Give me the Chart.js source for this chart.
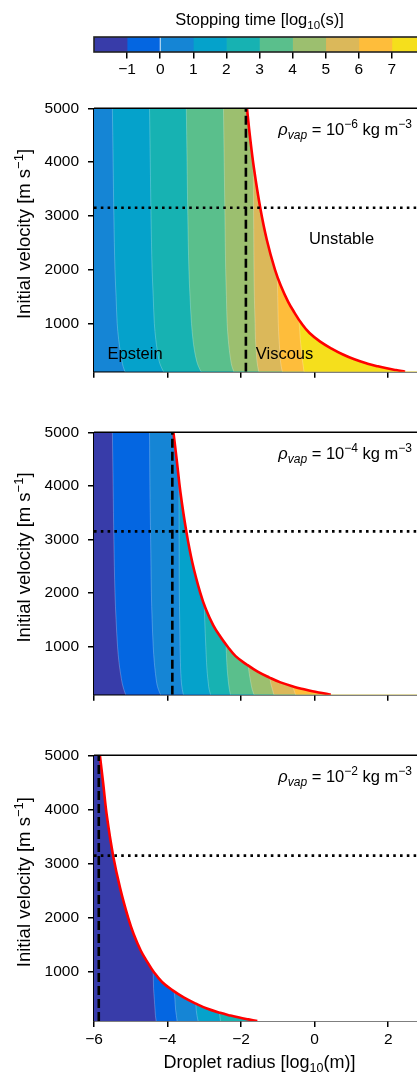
<!DOCTYPE html>
<html>
<head>
<meta charset="utf-8">
<script src="https://cdn.jsdelivr.net/npm/chart.js@4.4.0/dist/chart.umd.min.js"></script>
<style>
  html, body { margin: 0; padding: 0; background: #fff; }
  body { width: 417px; height: 1072px; overflow: hidden; position: relative; }
  canvas { position: absolute; left: 0; }
</style>
</head>
<body>
<canvas id="cbar" width="440" height="90" style="top:0px"></canvas>
<canvas id="p1" width="440" height="300" style="top:90px"></canvas>
<canvas id="p2" width="440" height="299" style="top:414px"></canvas>
<canvas id="p3" width="440" height="335" style="top:737px"></canvas>
<script>
// ---- data (x = log10 radius [m], v = velocity [m/s]) ----
const xTicks = [-6, -4, -2, 0, 2];
const yTicks = [1000, 2000, 3000, 4000, 5000];
const cbTicks = [-1, 0, 1, 2, 3, 4, 5, 6, 7];
const cbLevels = [-2, -1, 0, 1, 2, 3, 4, 5, 6, 7, 8];
const levelColors = ['#383ca9', '#0466e1', '#1585d5', '#05a2cb', '#17b2b2',
                     '#5abf8c', '#9cbf6f', '#dbb85a', '#febd3b', '#f5df1c'];
const rhoExponents = [-6, -4, -2];
const transitionRadius = [-1.87, -3.87, -5.87];
const refVelocity = 3150;

// panel 1: rho_vap = 1e-6
const p1BaseLevel = 0;
const p1Levels = [1, 2, 3, 4, 5, 6, 7];
const p1Contours = [
  [[-5.16,100],[-5.21,200],[-5.24,300],[-5.29,500],[-5.33,700],[-5.37,1000],[-5.40,1500],[-5.43,2000],[-5.46,3000],[-5.48,4000],[-5.50,5000]],
  [[-4.11,100],[-4.18,200],[-4.23,300],[-4.28,500],[-4.32,700],[-4.36,1000],[-4.39,1500],[-4.42,2000],[-4.45,3000],[-4.47,4000],[-4.49,5000]],
  [[-3.09,100],[-3.16,200],[-3.21,300],[-3.27,500],[-3.31,700],[-3.35,1000],[-3.39,1500],[-3.42,2000],[-3.45,3000],[-3.47,4000],[-3.49,5000]],
  [[-2.20,100],[-2.25,200],[-2.28,300],[-2.32,500],[-2.35,700],[-2.38,1000],[-2.40,1500],[-2.42,2000],[-2.44,3000],[-2.46,4000],[-2.48,5000]],
  [[-1.52,100],[-1.55,200],[-1.57,300],[-1.59,500],[-1.61,700],[-1.62,1000],[-1.64,1500],[-1.65,2000],[-1.66,3000],[-1.67,4000]],
  [[-0.88,100],[-0.91,200],[-0.93,300],[-0.95,500],[-0.97,700],[-0.99,1000],[-1.005,1500],[-1.015,1880]],
  [[-0.29,100],[-0.31,200],[-0.33,300],[-0.36,500],[-0.39,700],[-0.42,1000],[-0.43,1075]]
];
const p1Boundary = [[2.46,100],[2.21,130],[1.96,163],[1.72,200],[1.44,250],[1.08,330],[0.77,420],[0.46,530],
  [0.15,660],[-0.14,820],[-0.36,1000],[-0.55,1200],[-0.72,1400],[-0.92,1700],[-1.08,2000],[-1.30,2550],
  [-1.48,3150],[-1.65,3880],[-1.76,4480],[-1.84,5000]];

// panel 2: rho_vap = 1e-4
const p2BaseLevel = -2;
const p2Levels = [-1, 0, 1, 2, 3, 4, 5, 6];
const p2Contours = [
  [[-5.14,100],[-5.19,200],[-5.23,300],[-5.28,500],[-5.32,700],[-5.36,1000],[-5.40,1500],[-5.43,2000],[-5.46,3000],[-5.48,4000],[-5.50,5000]],
  [[-4.19,100],[-4.25,200],[-4.29,300],[-4.33,500],[-4.36,700],[-4.39,1000],[-4.42,1500],[-4.44,2000],[-4.46,3000],[-4.48,4000],[-4.49,5000]],
  [[-3.57,100],[-3.60,200],[-3.62,300],[-3.64,500],[-3.65,700],[-3.66,1000],[-3.67,1500],[-3.68,2000],[-3.685,3000],[-3.69,4120]],
  [[-2.83,100],[-2.87,200],[-2.89,300],[-2.92,500],[-2.94,700],[-2.96,1000],[-2.99,1500],[-3.00,1780]],
  [[-2.29,100],[-2.32,200],[-2.34,300],[-2.37,500],[-2.39,700],[-2.41,1040]],
  [[-1.65,100],[-1.70,200],[-1.73,300],[-1.78,500],[-1.81,650]],
  [[-1.11,100],[-1.15,200],[-1.19,300],[-1.22,418]],
  [[-0.52,100],[-0.57,200],[-0.60,256]]
];
const p2Boundary = [[0.44,100],[0.20,130],[-0.06,163],[-0.29,200],[-0.57,250],[-0.93,330],[-1.23,420],[-1.55,530],
  [-1.84,660],[-2.15,820],[-2.37,1000],[-2.58,1200],[-2.76,1400],[-2.96,1700],[-3.11,2000],[-3.32,2550],
  [-3.49,3150],[-3.65,3880],[-3.75,4480],[-3.84,5000]];

// panel 3: rho_vap = 1e-2
const p3BaseLevel = -2;
const p3Levels = [-1, 0, 1, 2];
const p3Contours = [
  [[-4.31,100],[-4.33,200],[-4.34,300],[-4.36,500],[-4.38,700],[-4.39,1015]],
  [[-3.74,100],[-3.76,200],[-3.78,300],[-3.80,500],[-3.82,655]],
  [[-3.17,100],[-3.20,200],[-3.22,300],[-3.23,420]],
  [[-2.56,100],[-2.58,200],[-2.59,254]]
];
const p3Boundary = [[-1.56,100],[-1.80,130],[-2.05,163],[-2.29,200],[-2.57,250],[-2.93,330],[-3.23,420],[-3.55,530],
  [-3.85,660],[-4.15,820],[-4.37,1000],[-4.56,1200],[-4.73,1400],[-4.92,1700],[-5.07,2000],[-5.29,2550],
  [-5.48,3150],[-5.65,3880],[-5.75,4480],[-5.84,5000]];

const X_MIN = -6, X_MAX = 3, V_MIN = 100, V_MAX = 5000;

Chart.defaults.font.family = '"Liberation Sans", Arial, sans-serif';
Chart.defaults.color = '#000';

const FONT = '"Liberation Sans", Arial, sans-serif';
const minus = (v) => String(v).replace('-', '\u2212');
const pts = (arr) => arr.map(p => ({x: p[0], y: p[1]}));
const colorOf = (level) => levelColors[level - cbLevels[0]];

// draw text made of runs with different size / offset
function drawRich(ctx, parts, x, y, align) {
  let w = 0;
  parts.forEach(p => {
    ctx.font = (p.it ? 'italic ' : '') + p.s + 'px ' + FONT;
    p.w = ctx.measureText(p.t).width;
    w += p.w;
  });
  let cx = align === 'right' ? x - w : (align === 'center' ? x - w / 2 : x);
  ctx.textAlign = 'left';
  ctx.textBaseline = 'alphabetic';
  ctx.fillStyle = '#000';
  parts.forEach(p => {
    ctx.font = (p.it ? 'italic ' : '') + p.s + 'px ' + FONT;
    ctx.fillText(p.t, cx, y + (p.dy || 0));
    cx += p.w;
  });
}

// ---- colorbar ----
new Chart(document.getElementById('cbar'), {
  type: 'bar',
  data: {
    labels: ['t'],
    datasets: levelColors.map((c, i) => ({
      data: [[cbLevels[i], cbLevels[i + 1]]],
      backgroundColor: c,
      borderWidth: 0,
      grouped: false,
      barPercentage: 1,
      categoryPercentage: 1
    }))
  },
  options: {
    indexAxis: 'y',
    responsive: false,
    animation: false,
    devicePixelRatio: 1,
    events: [],
    layout: {padding: {left: 94, right: 15, top: 37, bottom: 0}},
    plugins: {legend: {display: false}, tooltip: {enabled: false}},
    scales: {
      y: {display: false},
      x: {
        type: 'linear', min: -2, max: 8,
        afterBuildTicks: (s) => { s.ticks = cbTicks.map(v => ({value: v})); },
        afterFit: (s) => { s.height = 38; },
        ticks: {font: {size: 15.5}, padding: 2, callback: (v) => minus(v)},
        grid: {drawOnChartArea: false, drawTicks: true, tickLength: 6.5, color: '#000', lineWidth: 1.5},
        border: {display: false}
      }
    }
  },
  plugins: [{
    id: 'cbframe',
    afterDraw(chart) {
      const ctx = chart.ctx, a = chart.chartArea;
      ctx.save();
      ctx.strokeStyle = '#222';
      ctx.lineWidth = 1.6;
      ctx.strokeRect(a.left, a.top, a.right - a.left, a.bottom - a.top);
      drawRich(ctx, [
        {t: 'Stopping time [log', s: 16.5},
        {t: '10', s: 11.5, dy: 4},
        {t: '(s)]', s: 16.5}
      ], (a.left + a.right) / 2, 25, 'center');
      ctx.restore();
    }
  }]
});

// ---- panels ----
function makePanel(id, idx, baseLevel, levels, contours, boundary, isLast, extra) {
  const datasets = [];
  datasets.push({
    data: pts([[X_MIN, V_MIN], [X_MIN, V_MAX]]),
    fill: {value: X_MAX},
    backgroundColor: colorOf(baseLevel),
    borderWidth: 0, pointRadius: 0, order: 100
  });
  contours.forEach((c, k) => {
    datasets.push({
      data: pts(c),
      fill: {value: X_MAX},
      backgroundColor: colorOf(levels[k]),
      borderColor: 'rgba(255,255,255,0.35)',
      borderWidth: 0.7,
      pointRadius: 0,
      tension: 0.35,
      order: 90 - k
    });
  });
  datasets.push({
    data: pts(boundary),
    fill: {value: X_MAX},
    backgroundColor: '#ffffff',
    borderColor: '#ff0000',
    borderWidth: 2.6,
    pointRadius: 0,
    tension: 0.4,
    order: 10
  });
  datasets.push({
    data: pts([[transitionRadius[idx], V_MIN], [transitionRadius[idx], V_MAX]]),
    fill: false,
    borderColor: '#000',
    borderWidth: 2.6,
    borderDash: [9, 4],
    pointRadius: 0,
    order: 3
  });
  datasets.push({
    data: pts([[X_MIN, refVelocity], [X_MAX, refVelocity]]),
    fill: false,
    borderColor: '#000',
    borderWidth: 2.6,
    borderDash: [2.6, 4.2],
    pointRadius: 0,
    order: 2
  });

  const gridOpts = {drawOnChartArea: false, drawTicks: true, tickLength: 6, color: '#000', lineWidth: 1.5};
  const borderOpts = {display: true, color: '#000', width: 1.5};

  new Chart(document.getElementById(id), {
    type: 'line',
    data: {datasets},
    options: {
      indexAxis: 'y',
      responsive: false,
      animation: false,
      devicePixelRatio: 1,
      events: [],
      layout: {padding: {left: 0, right: 15, top: 15, bottom: 0}},
      plugins: {legend: {display: false}, tooltip: {enabled: false}},
      scales: {
        x: {
          type: 'linear', min: X_MIN, max: X_MAX, position: 'bottom', z: 1,
          afterBuildTicks: (s) => { s.ticks = xTicks.map(v => ({value: v})); },
          afterFit: (s) => { s.height = isLast ? 51 : 16; },
          ticks: {display: isLast, font: {size: 15.5}, padding: 3, maxRotation: 0, callback: (v) => minus(v)},
          grid: gridOpts,
          border: borderOpts
        },
        y: {
          type: 'linear', min: V_MIN, max: V_MAX, position: 'left', z: 1,
          afterBuildTicks: (s) => { s.ticks = yTicks.map(v => ({value: v})); },
          afterFit: (s) => { s.width = 94; },
          ticks: {font: {size: 15.5}, padding: 9, callback: (v) => String(v)},
          grid: gridOpts,
          border: borderOpts
        }
      }
    },
    plugins: [{
      id: 'decor' + idx,
      afterDraw(chart) {
        const ctx = chart.ctx, a = chart.chartArea;
        const xs = chart.scales.x, ys = chart.scales.y;
        ctx.save();
        // top spine
        ctx.strokeStyle = '#000';
        ctx.lineWidth = 1.5;
        ctx.beginPath();
        ctx.moveTo(a.left, a.top);
        ctx.lineTo(a.right, a.top);
        ctx.stroke();
        // density label
        drawRich(ctx, [
          {t: '\u03c1', s: 16.5, it: true},
          {t: 'vap', s: 12, it: true, dy: 4},
          {t: ' = 10', s: 16.5},
          {t: minus(rhoExponents[idx]), s: 12, dy: -7},
          {t: ' kg m', s: 16.5},
          {t: '\u22123', s: 12, dy: -7}
        ], a.left + 318, a.top + 26.5, 'right');
        // y axis title
        ctx.save();
        ctx.translate(29.5, (a.top + a.bottom) / 2 - 6);
        ctx.rotate(-Math.PI / 2);
        drawRich(ctx, [
          {t: 'Initial velocity [m s', s: 18.5},
          {t: '\u22121', s: 13, dy: -7},
          {t: ']', s: 18.5}
        ], 0, 0, 'center');
        ctx.restore();
        if (extra) extra(ctx, a, xs, ys);
        ctx.restore();
      }
    }]
  });
}

makePanel('p1', 0, p1BaseLevel, p1Levels, p1Contours, p1Boundary, false, (ctx, a, xs, ys) => {
  ctx.font = '16.5px ' + FONT;
  ctx.fillStyle = '#000';
  ctx.textBaseline = 'alphabetic';
  ctx.textAlign = 'center';
  ctx.fillText('Unstable', xs.getPixelForValue(0.73), ys.getPixelForValue(2468));
  ctx.textAlign = 'left';
  ctx.fillText('Epstein', xs.getPixelForValue(-5.63), ys.getPixelForValue(337));
  ctx.fillText('Viscous', xs.getPixelForValue(-1.60), ys.getPixelForValue(337));
});
makePanel('p2', 1, p2BaseLevel, p2Levels, p2Contours, p2Boundary, false, null);
makePanel('p3', 2, p3BaseLevel, p3Levels, p3Contours, p3Boundary, true, (ctx, a) => {
  drawRich(ctx, [
    {t: 'Droplet radius [log', s: 18},
    {t: '10', s: 12.5, dy: 4},
    {t: '(m)]', s: 18}
  ], (a.left + a.right) / 2, 331, 'center');
});
</script>
</body>
</html>
